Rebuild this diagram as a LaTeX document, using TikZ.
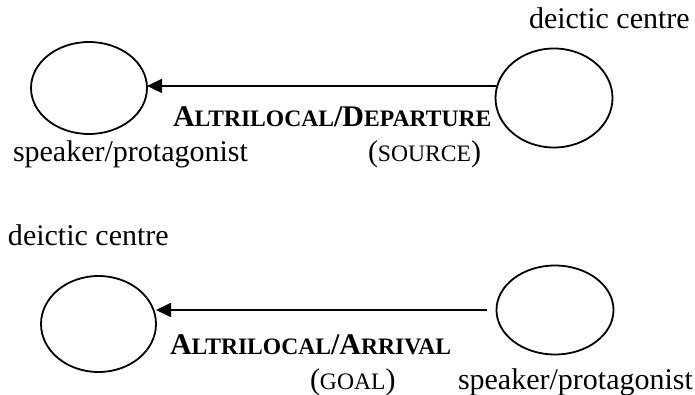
\documentclass[tikz,border=0pt]{standalone}
\usepackage{fontspec}
\setmainfont{Liberation Serif}
\usetikzlibrary{arrows.meta,shapes.geometric}
\newcommand{\mf}{\fontsize{15}{18}\selectfont}
\newcommand{\smc}[1]{{\fontsize{11.8}{14}\selectfont #1}}

\begin{document}
\begin{tikzpicture}[x=0.5pt, y=-0.5pt, every node/.style={inner sep=0pt, outer sep=0pt, font=\mf},
  place/.style={draw, ellipse, line width=0.9pt},
  motion/.style={line width=0.9pt, -{Triangle[length=7.5pt, width=7pt]}}]
\useasboundingbox (0,0) rectangle (695,395);
% ---- departure (source)
\node[place, minimum width=58pt, minimum height=46pt] (sp1) at (89,88) {};
\node[place, minimum width=58.5pt, minimum height=49.5pt] (dc1) at (554,98) {};
\draw[motion] (dc1.168) -- (dc1.168 -| sp1.east);
\node[anchor=base west] (dcl1) at (529,29) {deictic centre};
\node[anchor=base west] (spl1) at (13,162) {speaker/protagonist};
\node[anchor=base west] (dep) at (173,127) {\textbf{A\smc{LTRILOCAL}/D\smc{EPARTURE}}};
\node[anchor=base west] (src) at (368,162) {(\smc{SOURCE})};
% ---- arrival (goal)
\node[place, minimum width=57.5pt, minimum height=48pt] (dc2) at (98.5,324) {};
\node[place, minimum width=58.5pt, minimum height=44.5pt] (sp2) at (555,310) {};
\draw[motion] ([xshift=-5pt]sp2.west) -- (sp2.west -| dc2.east);
\node[anchor=base west] (dcl2) at (8,245) {deictic centre};
\node[anchor=base west] (spl2) at (458,389) {speaker/protagonist};
\node[anchor=base west] (arr) at (170,354) {\textbf{A\smc{LTRILOCAL}/A\smc{RRIVAL}}};
\node[anchor=base west] (goal) at (310,389) {(\smc{GOAL})};
\end{tikzpicture}
\end{document}
